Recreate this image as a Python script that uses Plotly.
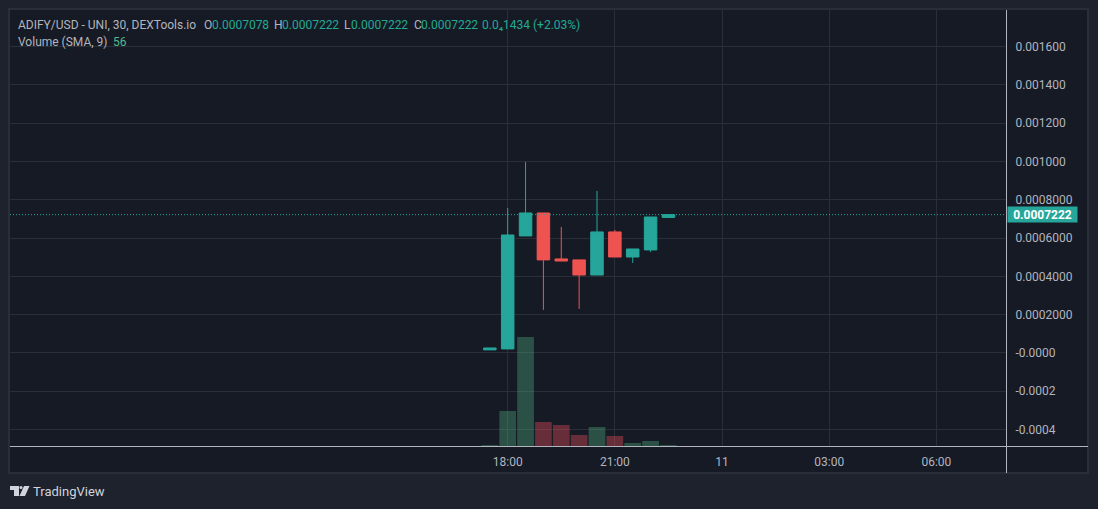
import plotly.graph_objects as go

W, H = 1098, 509
L, R, T, B = 10.0, 1006.0, 10.0, 446.0

times = ["2024-01-10 17:30", "2024-01-10 18:00", "2024-01-10 18:30", "2024-01-10 19:00",
         "2024-01-10 19:30", "2024-01-10 20:00", "2024-01-10 20:30", "2024-01-10 21:00",
         "2024-01-10 21:30", "2024-01-10 22:00", "2024-01-10 22:30"]
opens = [0.000016, 0.000021, 0.000611, 0.000731, 0.000491, 0.000486, 0.000407, 0.000632, 0.000501, 0.000538, 0.0007078]
highs = [0.000026, 0.000757, 0.000997, 0.000731, 0.000658, 0.000486, 0.000846, 0.000642, 0.000543, 0.000710, 0.0007222]
lows = [0.000016, 0.000021, 0.000611, 0.000225, 0.000480, 0.000230, 0.000407, 0.000501, 0.000470, 0.000527, 0.0007078]
closes = [0.000026, 0.000616, 0.000731, 0.000486, 0.000480, 0.000407, 0.000632, 0.000501, 0.000543, 0.000710, 0.0007222]
volumes = [56, 1960, 6104, 1344, 1176, 616, 1064, 560, 168, 280, 56]

price_ticks = [0.0016, 0.0014, 0.0012, 0.0010, 0.0008, 0.0006, 0.0004, 0.0002, 0.0, -0.0002, -0.0004]
price_labels = ["0.001600", "0.001400", "0.001200", "0.001000", "0.0008000", "0.0006000",
                "0.0004000", "0.0002000", "-0.0000", "-0.0002", "-0.0004"]
time_ticks = ["2024-01-10 18:00", "2024-01-10 21:00", "2024-01-11 00:00", "2024-01-11 03:00", "2024-01-11 06:00"]
time_labels = ["18:00", "21:00", "11", "03:00", "06:00"]
last_price = 0.0007222

UP, DOWN = "#26a69a", "#ef5350"
OUTER, PANEL, BORDER, GRID, AXIS, TEXT = "#1e222d", "#161a25", "#2a2e39", "#2a2e39", "#b2b5be", "#b2b5be"
FONT = "Roboto"


def px(x):
    return (x - L) / (R - L)


def py(y):
    return (B - y) / (B - T)


vol_colors = ["rgba(83,185,135,0.35)" if c >= o else "rgba(255,82,95,0.35)" for o, c in zip(opens, closes)]

fig = go.Figure()
fig.add_trace(go.Candlestick(
    x=times, open=opens, high=highs, low=lows, close=closes,
    increasing=dict(line=dict(color=UP, width=1), fillcolor=UP),
    decreasing=dict(line=dict(color=DOWN, width=1), fillcolor=DOWN),
    whiskerwidth=0, showlegend=False, xaxis="x", yaxis="y",
))
fig.add_trace(go.Bar(
    x=times, y=volumes, marker=dict(color=vol_colors, line=dict(width=0)),
    width=1680000, showlegend=False, yaxis="y2",
))

shapes = [
    dict(type="rect", xref="paper", yref="paper", x0=px(L - 1), x1=px(1088), y0=py(473), y1=py(T - 1),
         fillcolor=PANEL, line=dict(color=BORDER, width=2), layer="below"),
    dict(type="line", xref="paper", yref="paper", x0=px(L), x1=px(1088), y0=py(446.5), y1=py(446.5),
         line=dict(color=AXIS, width=1)),
    dict(type="line", xref="paper", yref="paper", x0=px(1006.5), x1=px(1006.5), y0=py(473), y1=1,
         line=dict(color=AXIS, width=1)),
    dict(type="line", xref="paper", yref="y", x0=0, x1=1, y0=last_price, y1=last_price,
         line=dict(color=UP, width=1, dash="1px,2px")),
    dict(type="path", xref="paper", yref="paper", fillcolor="#d1d4dc", line=dict(width=0),
         path="M {} {} L {} {} L {} {} L {} {} L {} {} L {} {} Z".format(
             px(10), py(486), px(19), py(486), px(19), py(496), px(14), py(496), px(14), py(490), px(10), py(490))),
    dict(type="circle", xref="paper", yref="paper", fillcolor="#d1d4dc", line=dict(width=0),
         x0=px(19.5), x1=px(22.5), y0=py(489), y1=py(486)),
    dict(type="path", xref="paper", yref="paper", fillcolor="#d1d4dc", line=dict(width=0),
         path="M {} {} L {} {} L {} {} L {} {} Z".format(
             px(24), py(486), px(29.5), py(486), px(25), py(496), px(19.5), py(496))),
]


def label(x, y, text, color=TEXT, size=12, **kw):
    return dict(xref="paper", yref="paper", x=px(x - 2), y=py(y), text=text, showarrow=False,
                xanchor="left", yanchor="middle", font=dict(family=FONT, size=size, color=color), **kw)


VAL = "#22ab94"
annotations = [
    label(18, 25, "ADIFY/USD - UNI, 30, DEXTools.io"),
    label(204, 25, "O"), label(212, 25, "0.0007078", VAL),
    label(274, 25, "H"), label(282, 25, "0.0007222", VAL),
    label(344, 25, "L"), label(351, 25, "0.0007222", VAL),
    label(414, 25, "C"), label(421, 25, "0.0007222", VAL),
    label(482, 25, "0.0₄1434 (+2.03%)", VAL),
    label(18, 42, "Volume (SMA, 9)"), label(113, 42, "56", "#53b987"),
    label(33, 491, "TradingView", "#d1d4dc", 13),
    dict(xref="paper", yref="y", x=px(1006.5), y=last_price, xanchor="left", yanchor="middle", showarrow=False,
         text="<b>0.0007222</b>", font=dict(family=FONT, size=12, color="#ffffff"),
         bgcolor=UP, width=69, height=15, align="center", borderpad=0),
]

fig.update_layout(
    width=W, height=H,
    margin=dict(l=10, r=92, t=10, b=63, autoexpand=False),
    paper_bgcolor=OUTER, plot_bgcolor=PANEL,
    font=dict(family=FONT, size=12, color=TEXT),
    showlegend=False, boxgap=0.3, boxgroupgap=0, shapes=shapes, annotations=annotations,
    xaxis=dict(type="date", range=["2024-01-10 04:04:00", "2024-01-11 07:57:00"],
               rangeslider=dict(visible=False), tickvals=time_ticks, ticktext=time_labels,
               showgrid=True, gridcolor=GRID, gridwidth=1, zeroline=False, showline=False,
               ticks="outside", ticklen=5, tickcolor="rgba(0,0,0,0)", tickangle=0,
               tickfont=dict(family=FONT, size=12, color=TEXT)),
    yaxis=dict(side="right", range=[-0.000486, 0.001791], tickvals=price_ticks, ticktext=price_labels,
               showgrid=True, gridcolor=GRID, gridwidth=1, zeroline=False, showline=False,
               ticks="outside", ticklen=6, tickcolor="rgba(0,0,0,0)",
               tickfont=dict(family=FONT, size=12, color=TEXT)),
    yaxis2=dict(overlaying="y", side="left", range=[0, 24416], showgrid=False, zeroline=False,
                showticklabels=False, ticks="", showline=False),
)

fig.write_html("out.html", config={"displayModeBar": False},
               post_script="document.body.style.margin='0';document.body.style.background='#1e222d';")
